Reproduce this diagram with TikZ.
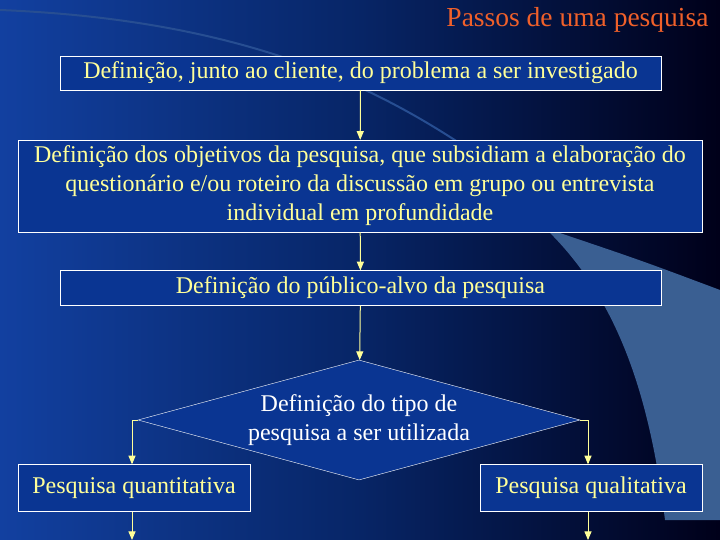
\documentclass[tikz,border=0pt]{standalone}
\usepackage{fontspec}
\setmainfont{Liberation Serif}
\usetikzlibrary{shapes.geometric, arrows}

\definecolor{boxblue}{HTML}{0A3592}
\definecolor{bgleft}{HTML}{1240A0}
\definecolor{txtyellow}{HTML}{FFFF99}
\definecolor{titlered}{HTML}{F0602A}
\definecolor{swoosh}{HTML}{3A5F92}

\tikzset{
  stepbox/.style={draw=white, fill=boxblue, text=txtyellow, align=center,
    inner sep=0pt, font=\fontsize{24}{29}\selectfont},
  flow/.style={draw=txtyellow, line width=1pt, -triangle 45}
}

\begin{document}
\begin{tikzpicture}[x=1pt, y=-1pt]
  % background
  \useasboundingbox (0,0) rectangle (720,540);
  \shade[left color=bgleft, right color=black!90!blue, middle color=boxblue!70!black]
    (0,0) rectangle (720,540);
  \fill[swoosh] (545,228) .. controls (640,260) .. (720,290) -- (720,520) -- (665,520)
    .. controls (650,400) and (620,300) .. (545,228);
  \draw[swoosh!60!boxblue, line width=2pt] (0,10) .. controls (250,20) and (380,90) .. (470,150);

  \node[text=titlered, anchor=east, font=\fontsize{27.5}{32}\selectfont] (titulo) at (712,20)
    {Passos de uma pesquisa};

  \node[stepbox, minimum width=601pt, minimum height=34pt] (problema) at (360.5,73)
    {Definição, junto ao cliente, do problema a ser investigado};
  \node[stepbox, minimum width=684pt, minimum height=92pt] (objetivos) at (360,186)
    {Definição dos objetivos da pesquisa, que subsidiam a elaboração do\\
     questionário e/ou roteiro da discussão em grupo ou entrevista\\
     individual em profundidade};
  \node[stepbox, minimum width=601pt, minimum height=35pt] (publico) at (360.5,288)
    {Definição do público-alvo da pesquisa};
  \node[stepbox, diamond, aspect=3.7, text=white, minimum width=442pt, minimum height=120pt]
    (tipo) at (359,420) {Definição do tipo de\\pesquisa a ser utilizada};
  \node[stepbox, minimum width=232pt, minimum height=47pt] (quanti) at (134,488)
    {Pesquisa quantitativa};
  \node[stepbox, minimum width=222pt, minimum height=47pt] (quali) at (591,488)
    {Pesquisa qualitativa};

  \coordinate (fimquanti) at (132,540);
  \coordinate (fimquali) at (588,540);

  \draw[flow] (problema) -- (objetivos);
  \draw[flow] (objetivos) -- (publico);
  \draw[flow] (publico) -- (tipo);
  \draw[flow] (tipo.west) -| (quanti.north -| fimquanti);
  \draw[flow] (tipo.east) -| (quali.north -| fimquali);
  \draw[flow] (quanti.south -| fimquanti) -- (fimquanti);
  \draw[flow] (quali.south -| fimquali) -- (fimquali);
\end{tikzpicture}
\end{document}
